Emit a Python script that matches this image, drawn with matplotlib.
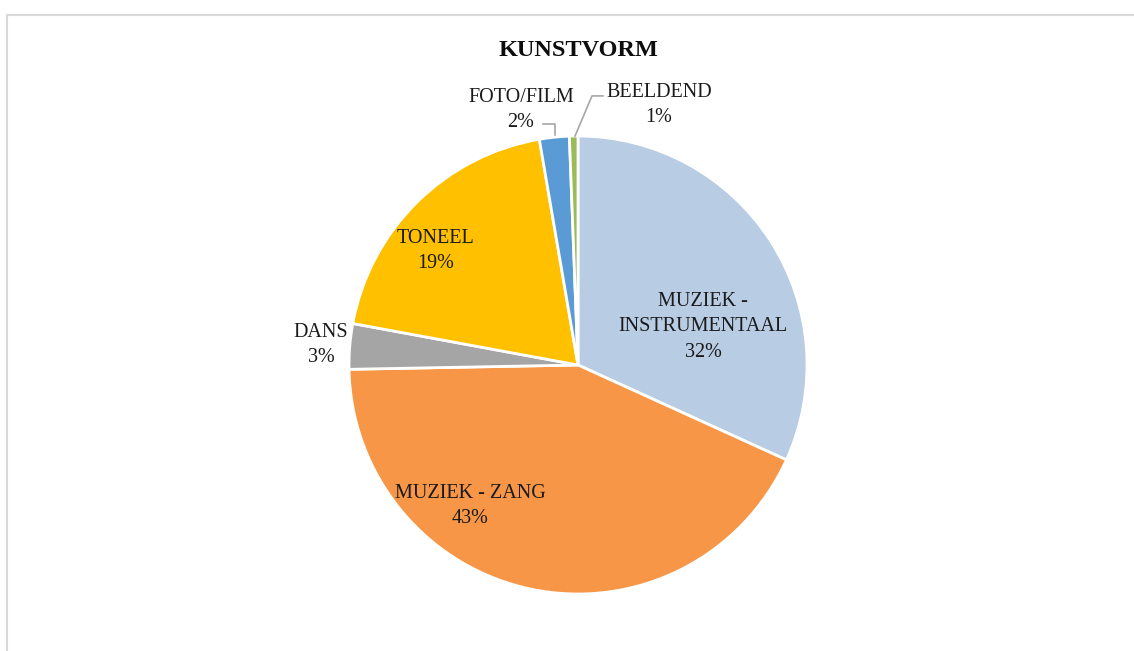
import numpy as np
import matplotlib.pyplot as plt
from matplotlib.patches import Rectangle

# Shares per kunstvorm (percent)
categories = ['MUZIEK -\nINSTRUMENTAAL', 'MUZIEK - ZANG', 'DANS', 'TONEEL',
              'FOTO/FILM', 'BEELDEND']
shares = [31.8, 42.9, 3.2, 19.4, 2.1, 0.6]
colors = ['#B8CCE4', '#F79646', '#A5A5A5', '#FFC000', '#5B9BD5', '#9BBB59']

# label centres in axes data units (radius = 1)
label_pos = [(0.546, 0.166), (-0.472, -0.616), (-1.122, 0.087),
             (-0.62, 0.498), (-0.249, 1.114), (0.354, 1.135)]

FONT = ['Liberation Serif', 'DejaVu Serif']

W, H = 1134, 651
fig = plt.figure(figsize=(W / 100, H / 100), dpi=100)

# light grey chart frame
fig.patches.append(Rectangle((7 / W, -0.01), 1.2, (H - 14.5) / H + 0.01,
                             transform=fig.transFigure, fill=False,
                             edgecolor='#D9D9D9', linewidth=1.5))

cx, cy, r = 578, 365, 229
ax = fig.add_axes([(cx - r) / W, (H - cy - r) / H, 2 * r / W, 2 * r / H])
ax.pie(shares, colors=colors, startangle=90, counterclock=False,
       wedgeprops=dict(edgecolor='white', linewidth=2))
ax.set_xlim(-1, 1)
ax.set_ylim(-1, 1)
ax.set_aspect('equal')
ax.axis('off')

for name, val, (x, y) in zip(categories, shares, label_pos):
    ax.text(x, y, f'{name}\n{round(val)}%', ha='center', va='center',
            fontsize=14.5, family=FONT, color='#1a1a1a', linespacing=1.45)

# leader lines for the small slices
ax.plot([-0.153, -0.10, -0.10], [1.052, 1.052, 1.005], color='#A6A6A6', lw=1.2,
        clip_on=False)
ax.plot([0.109, 0.061, -0.013], [1.175, 1.175, 1.0], color='#A6A6A6', lw=1.2,
        clip_on=False)

fig.text(cx / W, 1 - 50 / H, 'KUNSTVORM', ha='center', va='center',
         fontsize=17.5, fontweight='bold', family=FONT, color='#0d0d0d')

fig.savefig('out.png', dpi=100)
